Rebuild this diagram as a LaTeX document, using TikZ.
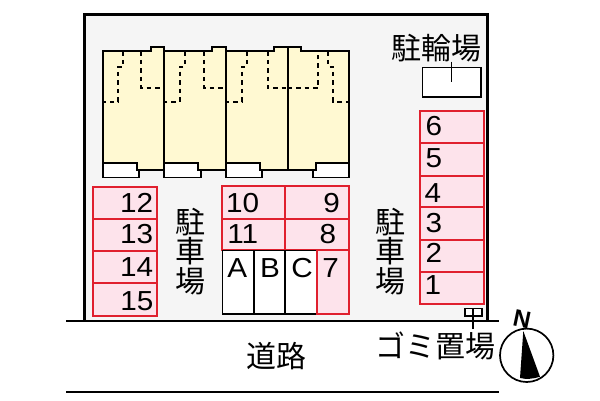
\documentclass[tikz,border=0pt]{standalone}
\usepackage{fontspec}
\setmainfont{Liberation Sans}
\newfontfamily\numfont[FakeStretch=1.08]{Liberation Sans}
\newfontfamily\jpfont{Noto Sans CJK JP}
\definecolor{sitegray}{HTML}{F5F5F5}
\definecolor{unityellow}{HTML}{FFF9D2}
\definecolor{stallpink}{HTML}{FDE3EB}
\definecolor{stallred}{HTML}{E0202E}
\tikzset{
  stallbox/.style={draw=stallred,fill=stallpink,line width=1.8pt},
  plainbox/.style={draw=black,fill=white,line width=1.6pt},
  unitline/.style={draw=black,line width=1.9pt,line join=miter},
  inner/.style={black,line width=1.8pt,dash pattern=on 4.5pt off 4pt},
  numtext/.style={inner sep=0pt,font=\numfont\fontsize{27.5}{28}\selectfont},
  jptext/.style={inner sep=0pt,font=\jpfont\fontsize{30}{30}\selectfont}
}
\begin{document}
\begin{tikzpicture}[x=1pt,y=-1pt]
\useasboundingbox (0,0) rectangle (600,400);
\fill[white] (0,0) rectangle (600,400);

%site with road lines
\fill[sitegray] (84,14) rectangle (487,321);
\draw[line width=3pt] (84,321) -- (84,14) -- (487,14) -- (487,321);
\draw[line width=2pt] (66,321) -- (499,321);
\draw[line width=1.6pt] (66,392) -- (499,392);

%drawing the four units
\draw[unitline,fill=unityellow] (103,51.3) -- (151,51.3) -- (151,47.3) -- (164.3,47.3) -- (164.3,170.3) -- (103,170.3) -- cycle;
\draw[unitline,fill=unityellow] (164.3,51.3) -- (212.3,51.3) -- (212.3,47.3) -- (226,47.3) -- (226,170.3) -- (164.3,170.3) -- cycle;
\draw[unitline,fill=unityellow] (226,51.3) -- (274,51.3) -- (274,47.3) -- (287.7,47.3) -- (287.7,170.3) -- (226,170.3) -- cycle;
\draw[unitline,fill=unityellow] (287.7,47.3) -- (301,47.3) -- (301,51.3) -- (349,51.3) -- (349,170.3) -- (287.7,170.3) -- cycle;

%white porches
\foreach \x/\a/\b in {103/136.7/139,164.3/198.3/201,226/260/262.3}
\draw[unitline,fill=white] (\x,162.7) -- (\a,162.7) -- (\a,170.3) -- (\b,170.3) -- (\b,177.5) -- (\x,177.5) -- cycle;
\draw[unitline,fill=white] (349,162.7) -- (315.7,162.7) -- (315.7,170.3) -- (313,170.3) -- (313,177.5) -- (349,177.5) -- cycle;

%dashed inner walls
\foreach \x/\a/\b/\c/\r in {103/123.3/118.3/141/164.3,164.3/185/179.7/204.3/226,226/246.7/241.7/267.7/287.7}{
\draw[inner] (\a,51.3) -- (\a,66.7) -- (\b,66.7) -- (\b,101.7) -- (\x,101.7);
\draw[inner] (\c,51.3) -- (\c,88.3) -- (\r,88.3);
}
\draw[inner] (287.7,88.3) -- (318.3,88.3) -- (318.3,51.3);
\draw[inner] (328.3,51.3) -- (328.3,66.7) -- (333.3,66.7) -- (333.3,101.7) -- (349,101.7);

%parking stalls
\foreach \xa/\ya/\xb/\yb in {93.3/187.3/157.3/219.3,93.3/219.3/157.3/251.3,93.3/251.3/157.3/283.3,93.3/283.3/157.3/315.7,
222.3/186/285/218.7,285/186/349/218.7,222.3/218.7/285/250.3,285/218.7/349/250.3,
420/111/483.7/143.3,420/143.3/483.7/175.7,420/175.7/483.7/207.3,420/207.3/483.7/240,420/240/483.7/272,420/272/483.7/304.3}
\draw[stallbox] (\xa,\ya) rectangle (\xb,\yb);

%spaces A B C
\foreach \xa/\xb in {222.3/254,254/285,285/317}
\draw[plainbox] (\xa,250.3) rectangle (\xb,313.7);
\draw[stallbox] (317,250.3) rectangle (349,313.7);

%labeling the stalls
\foreach \t/\x/\y in {12/136.7/202.7,13/136.7/234,14/136.7/266.7,15/137/300.7,
10/242.7/202.7,9/331.7/202.7,11/242.7/234,8/328/234,A/237.3/268,B/270/268,C/302/268,7/330.7/268,
6/434/126,5/434/158,4/433/193.3,3/434/222.7,2/434/253,1/433/285}
\node[numtext] (stall\t) at (\x,\y) {\t};

%bicycle shed
\draw[plainbox] (422.3,67.3) rectangle (480.7,96.7);
\draw[line width=1.6pt] (451.3,61.7) -- (451.3,81.7);

%garbage place
\draw[plainbox] (464.7,308.3) rectangle (481.7,315.7);
\draw[line width=1.6pt] (472.7,308.3) -- (472.7,329);

%japanese labels
\node[jptext] (bike) at (436,48) {駐輪場};
\foreach \n/\x in {left/190,right/390}{
\node[jptext] (park\n a) at (\x,222) {駐};
\node[jptext] (park\n b) at (\x,251) {車};
\node[jptext] (park\n c) at (\x,281) {場};
}
\node[jptext] (road) at (276,356) {道路};
\node[jptext] (garbage) at (435,346) {ゴミ置場};

%compass
\draw[fill=white,line width=1.7pt] (526.7,355.3) circle (26.7);
\fill (523.3,331) -- (540,376.7) .. controls (533,379) and (526,379.5) .. (520,378) -- cycle;
\node[inner sep=0pt,rotate=-12,font=\bfseries\fontsize{24}{24}\selectfont] (north) at (522,319.5) {N};

\end{tikzpicture}
\end{document}
